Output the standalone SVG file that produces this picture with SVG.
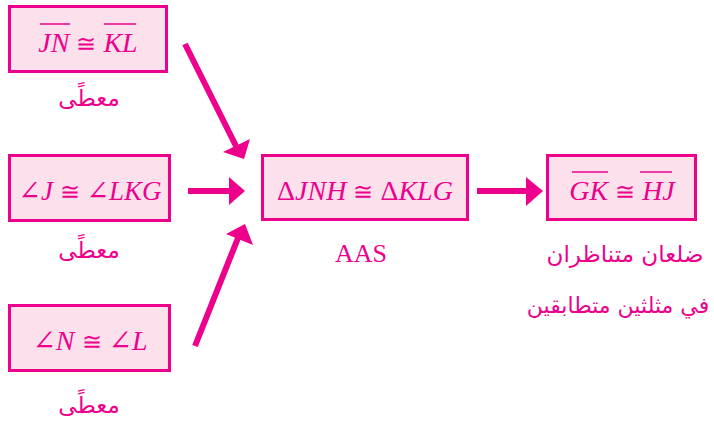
<svg xmlns="http://www.w3.org/2000/svg" width="714" height="431" viewBox="0 0 714 431">
<style>
.box{fill:#FCE0EC;stroke:#EC008C;stroke-width:3}
.m{font-family:"Liberation Serif","DejaVu Serif",serif;font-size:28px;fill:#EC008C;text-anchor:middle}
.i{font-style:italic}
.s{font-family:"DejaVu Serif",serif;font-size:24px}
.ar{font-family:"DejaVu Sans","Noto Sans",sans-serif;font-size:23px;fill:#EC008C;text-anchor:middle;direction:rtl}
.ol{stroke:#EC008C;stroke-width:1.5}
.c{stroke:#EC008C;stroke-width:6;fill:none}
.h{fill:#EC008C}
</style>
<g id="n1">
<rect class="box" x="9.5" y="6.5" width="157" height="65"/>
<text class="m" x="88" y="52"><tspan class="i">JN</tspan> <tspan class="s">≅</tspan> <tspan class="i">KL</tspan></text>
<line class="ol" x1="40" y1="24" x2="70" y2="24"/>
<line class="ol" x1="104" y1="24" x2="136" y2="24"/>
<text class="ar" x="89" y="106">معطًى</text>
</g>
<g id="n2">
<rect class="box" x="9.5" y="155.5" width="160" height="65"/>
<text class="m" x="90" y="200" style="font-size:27px">∠<tspan class="i">J</tspan> <tspan class="s">≅</tspan> ∠<tspan class="i">LKG</tspan></text>
<text class="ar" x="89" y="258">معطًى</text>
</g>
<g id="n3">
<rect class="box" x="9.5" y="305.5" width="160" height="65"/>
<text class="m" x="90" y="350">∠<tspan class="i">N</tspan> <tspan class="s">≅</tspan> ∠<tspan class="i">L</tspan></text>
<text class="ar" x="89" y="413">معطًى</text>
</g>
<g id="n4">
<rect class="box" x="262.5" y="155.5" width="205" height="64"/>
<text class="m" x="365" y="200">Δ<tspan class="i">JNH</tspan> <tspan class="s">≅</tspan> Δ<tspan class="i">KLG</tspan></text>
<text class="m" x="361" y="262" style="font-size:26px">AAS</text>
</g>
<g id="n5">
<rect class="box" x="547.5" y="155.5" width="148" height="64"/>
<text class="m" x="622" y="200"><tspan class="i">GK</tspan> <tspan class="s">≅</tspan> <tspan class="i">HJ</tspan></text>
<line class="ol" x1="572" y1="172" x2="608" y2="172"/>
<line class="ol" x1="640" y1="172" x2="672" y2="172"/>
<text class="ar" x="625" y="262">ضلعان متناظران</text>
<text class="ar" x="618" y="313" style="font-size:22px">في مثلثين متطابقين</text>
</g>
<g id="connectors">
<line class="c" x1="185" y1="44" x2="236" y2="146"/>
<polygon class="h" points="244,159 223,152 250,139"/>
<line class="c" x1="188" y1="191" x2="232" y2="191"/>
<polygon class="h" points="245,191 229,177 229,205"/>
<line class="c" x1="195" y1="346" x2="238" y2="238"/>
<polygon class="h" points="245,224 226,234 253,245"/>
<line class="c" x1="477" y1="191" x2="530" y2="191"/>
<polygon class="h" points="543,191 526,177 526,206"/>
</g>
</svg>
